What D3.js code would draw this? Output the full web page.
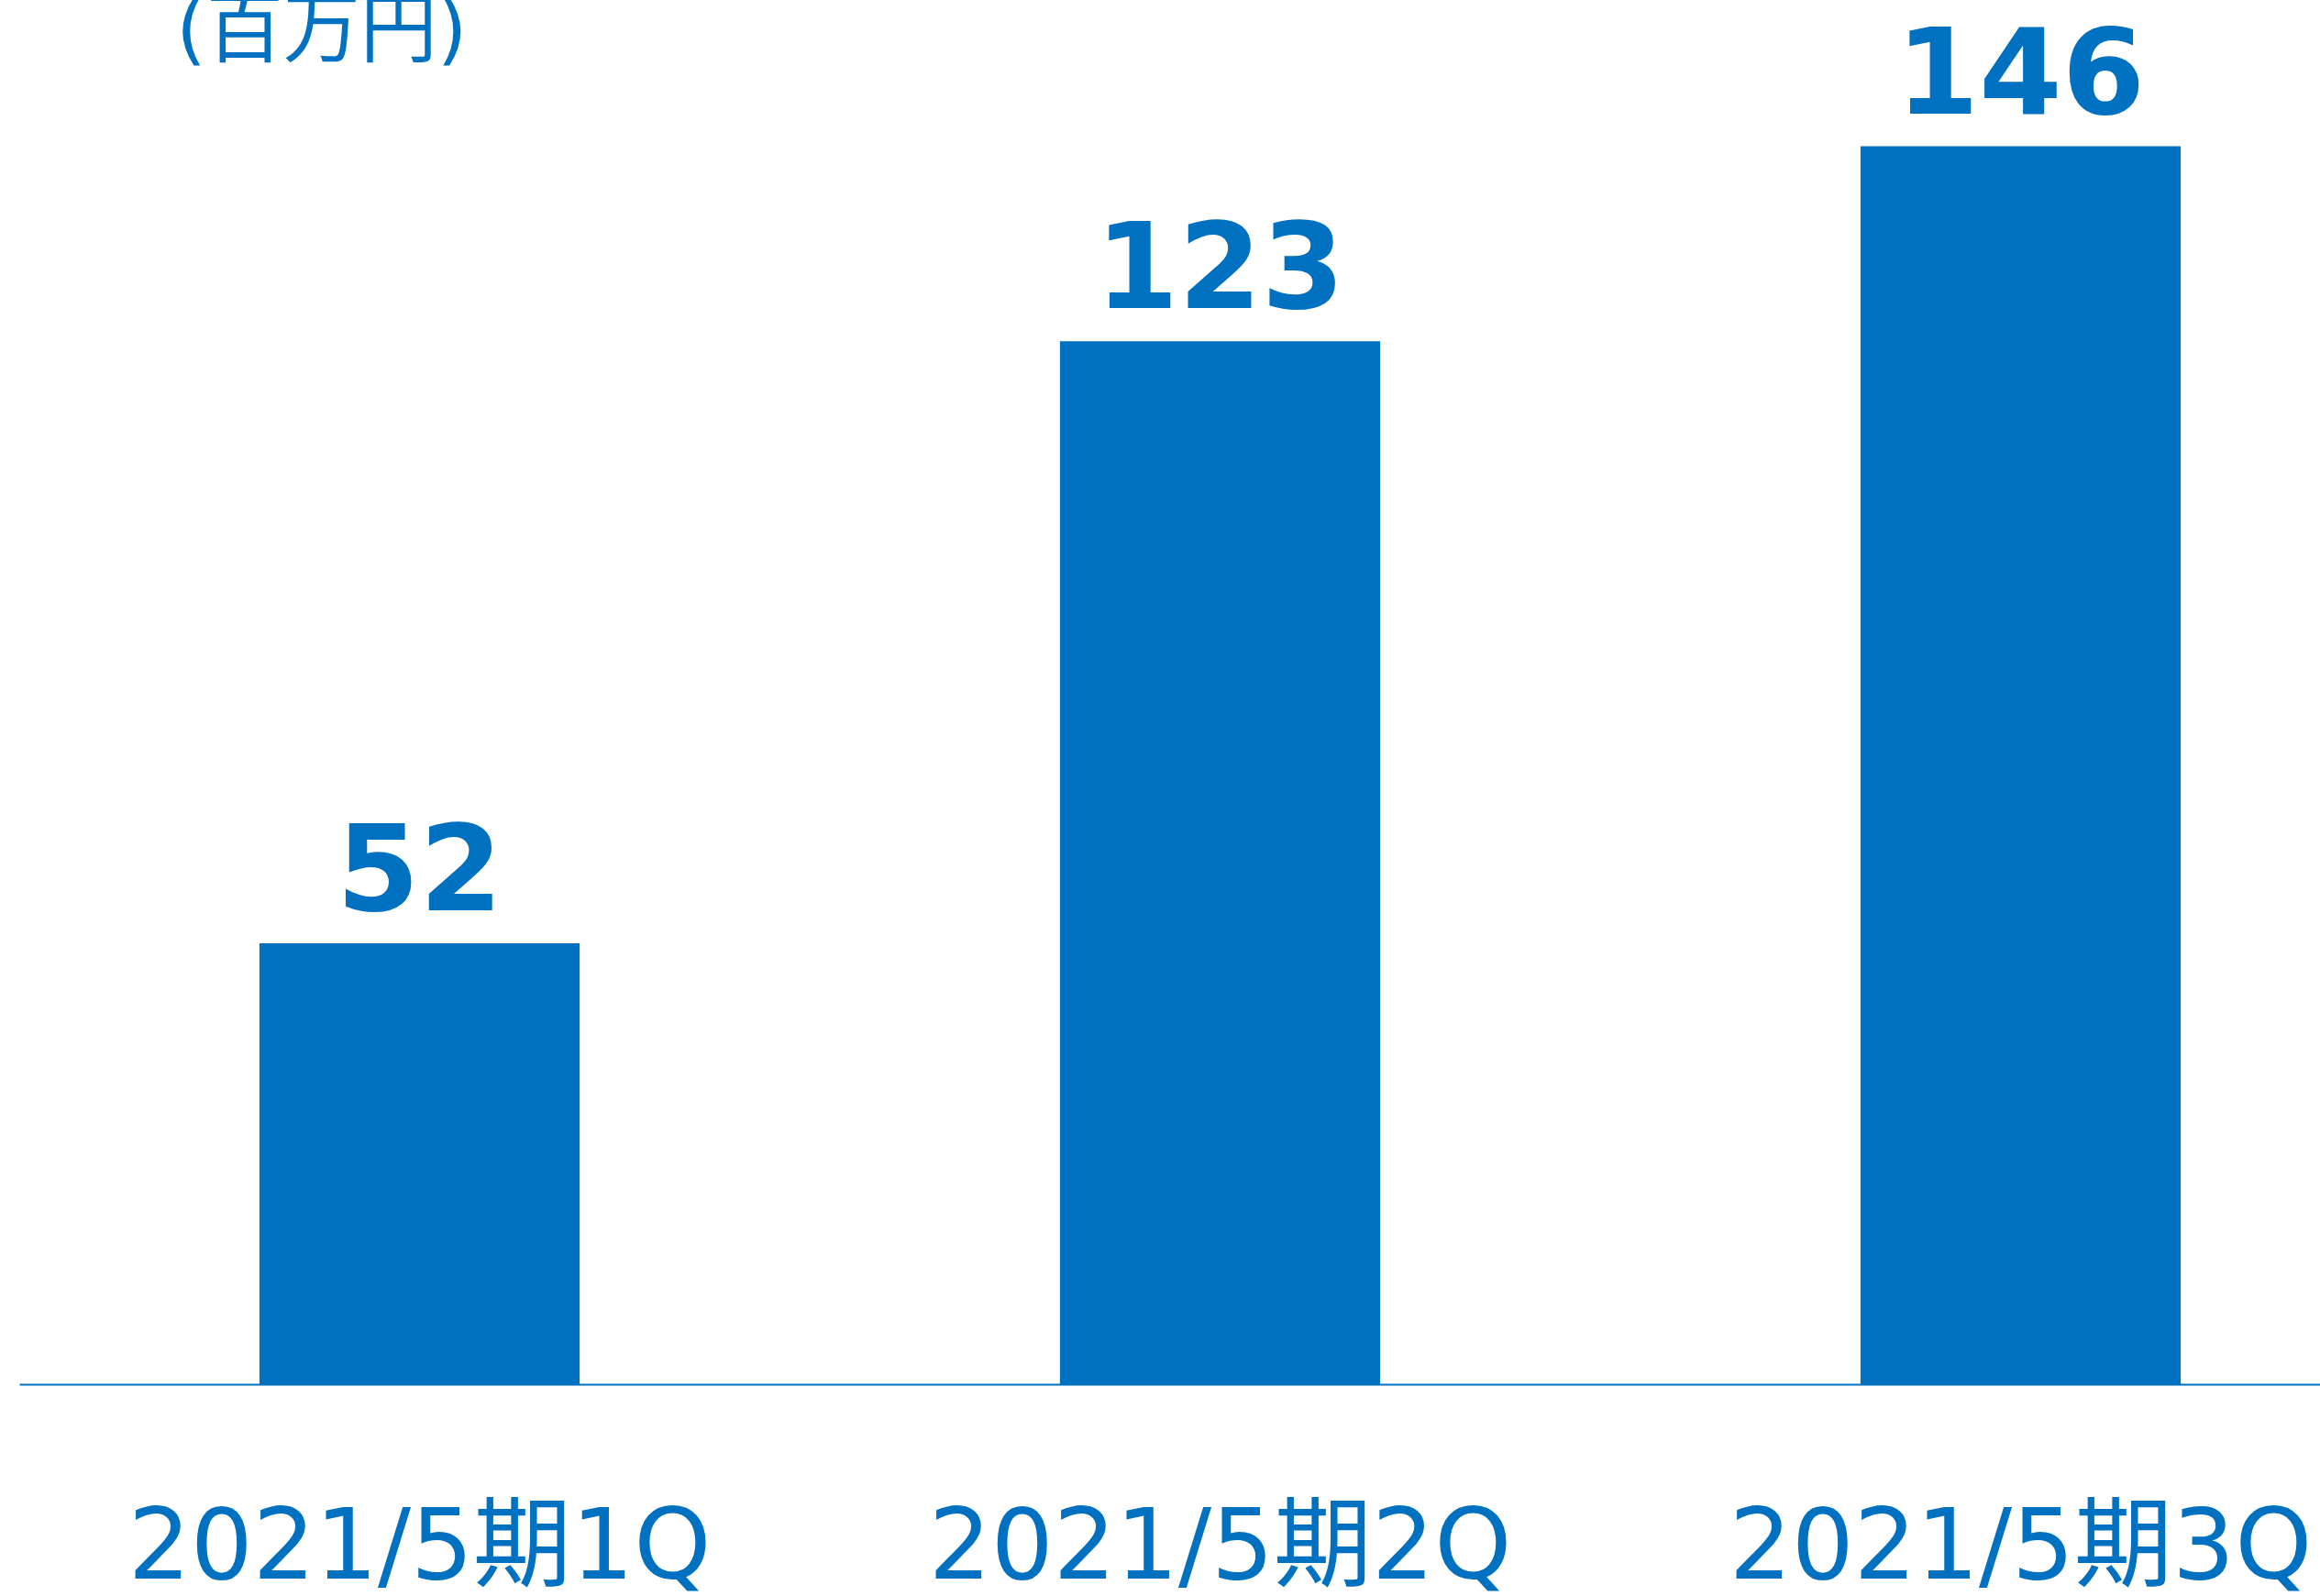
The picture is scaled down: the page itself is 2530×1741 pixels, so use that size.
<!DOCTYPE html>
<html>
<head>
<meta charset="utf-8">
<script src="https://cdn.jsdelivr.net/npm/d3@7"></script>
<style>
  html, body { margin: 0; padding: 0; background: #fff; overflow: hidden; }
</style>
</head>
<body>
<div id="chart"></div>
<script>
// 四半期ごとの値（百万円）
const categories = ["2021/5期1Q", "2021/5期2Q", "2021/5期3Q"];
const values = [52, 123, 146];
const unitLabel = "(百万円)";

const W = 2530, H = 1741;
const blue = "#0070C0";
const baseY = 1510;

const svg = d3.select("#chart")
    .append("svg")
    .attr("width", W)
    .attr("height", H);

const x = d3.scaleBand()
    .domain(categories)
    .range([21, 2640])
    .paddingInner(0.6)
    .paddingOuter(0.3);

const y = d3.scaleLinear()
    .domain([0, 160])
    .range([baseY, baseY - 1480]);

// bars
svg.selectAll(".bar")
    .data(values)
    .enter()
    .append("rect")
    .attr("class", "bar")
    .attr("x", (d, i) => x(categories[i]))
    .attr("y", d => y(d))
    .attr("width", x.bandwidth())
    .attr("height", d => baseY - y(d))
    .attr("fill", blue);

// value labels
svg.selectAll(".label")
    .data(values)
    .enter()
    .append("text")
    .attr("class", "label")
    .attr("x", (d, i) => x(categories[i]) + x.bandwidth() / 2)
    .attr("y", d => y(d) - 36)
    .attr("text-anchor", "middle")
    .style("font-family", "'DejaVu Sans', 'Noto Sans CJK JP', sans-serif")
    .style("font-weight", "bold")
    .style("font-size", "130px")
    .style("fill", blue)
    .text(d => d);

// x axis
const axis = svg.append("g")
    .attr("transform", `translate(0,${baseY})`)
    .call(d3.axisBottom(x).tickSize(0).tickPadding(0));

axis.select(".domain")
    .attr("stroke", blue)
    .attr("stroke-width", 2);

axis.selectAll("text")
    .attr("y", 212)
    .attr("dy", 0)
    .style("font-family", "'DejaVu Sans', 'Noto Sans CJK JP', sans-serif")
    .style("font-size", "107px")
    .style("fill", blue);

// unit label (partly cut at the top)
svg.append("text")
    .attr("x", 192)
    .attr("y", 61)
    .style("font-family", "'DejaVu Sans', 'Noto Sans CJK JP', sans-serif")
    .style("font-size", "84px")
    .style("fill", blue)
    .text(unitLabel);
</script>
</body>
</html>
